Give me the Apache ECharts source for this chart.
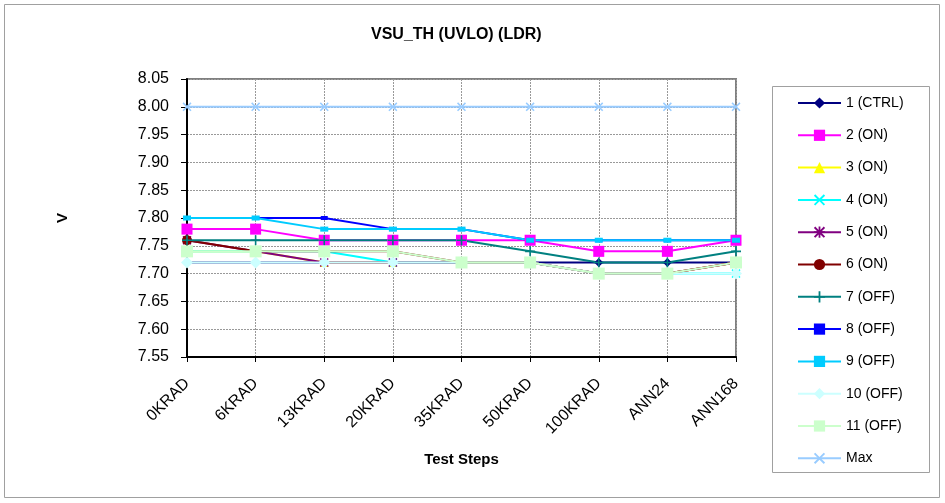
<!DOCTYPE html>
<html>
<head>
<meta charset="utf-8">
<script src="https://cdn.jsdelivr.net/npm/echarts@6/dist/echarts.min.js"></script>
<style>
html,body{margin:0;padding:0;background:#fff;}
#chart{width:945px;height:503px;}
</style>
</head>
<body>
<div id="chart"></div>
<script>
const categories = ['0KRAD','6KRAD','13KRAD','20KRAD','35KRAD','50KRAD','100KRAD','ANN24','ANN168'];
const yTicks = [7.55, 8.05, 0.05];
const s1_ctrl = [7.72,7.72,7.72,7.72,7.72,7.72,7.72,7.72,7.72];
const s2_on   = [7.78,7.78,7.76,7.76,7.76,7.76,7.74,7.74,7.76];
const s3_on   = [7.74,7.74,7.72,7.72,7.72,7.72,7.70,7.70,7.72];
const s4_on   = [7.74,7.74,7.74,7.72,7.72,7.72,7.70,7.70,7.70];
const s5_on   = [7.76,7.74,7.72,7.72,7.72,7.72,7.70,7.70,7.72];
const s6_on   = [7.76,7.74,7.74,7.74,7.72,7.72,7.70,7.70,7.72];
const s7_off  = [7.76,7.76,7.76,7.76,7.76,7.74,7.72,7.72,7.74];
const s8_off  = [7.80,7.80,7.80,7.78,7.78,7.76,7.76,7.76,7.76];
const s9_off  = [7.80,7.80,7.78,7.78,7.78,7.76,7.76,7.76,7.76];
const s10_off = [7.72,7.72,7.72,7.72,7.72,7.72,7.70,7.70,7.70];
const s11_off = [7.74,7.74,7.74,7.74,7.72,7.72,7.70,7.70,7.72];
const maxLimit = [8.00,8.00,8.00,8.00,8.00,8.00,8.00,8.00,8.00];
const seriesNames = ['1 (CTRL)','2 (ON)','3 (ON)','4 (ON)','5 (ON)','6 (ON)','7 (OFF)','8 (OFF)','9 (OFF)','10 (OFF)','11 (OFF)','Max'];

const X_PATH = 'path://M0,1.2 L1.2,0 L5,3.8 L8.8,0 L10,1.2 L6.2,5 L10,8.8 L8.8,10 L5,6.2 L1.2,10 L0,8.8 L3.8,5 Z';
const PLUS_PATH = 'path://M4.2,0 H5.8 V4.2 H10 V5.8 H5.8 V10 H4.2 V5.8 H0 V4.2 H4.2 Z';
const STAR_PATH = 'path://M0,1.2 L1.2,0 L4.2,3 V0 H5.8 V3 L8.8,0 L10,1.2 L7,4.2 H10 V5.8 H7 L10,8.8 L8.8,10 L5.8,7 V10 H4.2 V7 L1.2,10 L0,8.8 L3,5.8 H0 V4.2 H3 Z';
const DASH_PATH = 'path://M0,0 H10 V6 H0 Z';

const styles = [
  {data:s1_ctrl, color:'#000080', symbol:'diamond', size:9},
  {data:s2_on, color:'#ff00ff', symbol:'rect', size:11},
  {data:s3_on, color:'#ffff00', symbol:'triangle', size:9},
  {data:s4_on, color:'#00ffff', symbol:X_PATH, size:9},
  {data:s5_on, color:'#800080', symbol:STAR_PATH, size:9},
  {data:s6_on, color:'#800000', symbol:'circle', size:10},
  {data:s7_off, color:'#008080', symbol:PLUS_PATH, size:10},
  {data:s8_off, color:'#0000ff', symbol:DASH_PATH, size:[7,4]},
  {data:s9_off, color:'#00ccff', symbol:DASH_PATH, size:[8,5]},
  {data:s10_off, color:'#ccffff', symbol:'diamond', size:12},
  {data:s11_off, color:'#ccffcc', symbol:'rect', size:12},
  {data:maxLimit, color:'#99ccff', symbol:X_PATH, size:9}
];

const chart = echarts.init(document.getElementById('chart'), null, {renderer:'canvas'});
const font = 'Liberation Sans, Arial, sans-serif';
chart.setOption({
  animation:false,
  backgroundColor:'#fff',
  textStyle:{fontFamily:font},
  title:{text:'VSU_TH (UVLO) (LDR)', left:366, top:22, textStyle:{fontSize:16, fontWeight:'bold', color:'#000', fontFamily:font}},
  graphic:[
    {type:'rect', shape:{x:4.5,y:4.5,width:935,height:493}, style:{fill:null, stroke:'#a0a0a0', lineWidth:1}, silent:true, z:-10},
    {type:'rect', shape:{x:772.5,y:86.5,width:157,height:386}, style:{fill:'#fff', stroke:'#a0a0a0', lineWidth:1}, silent:true, z:-5}
  ],
  grid:{left:187, right:209, top:79, bottom:146, show:true, borderColor:'#808080', borderWidth:2, containLabel:false},
  legend:{
    orient:'vertical', left:792, top:91, itemWidth:43, itemHeight:14, itemGap:18.3,
    textStyle:{fontSize:14, color:'#000', fontFamily:font},
    data:seriesNames.map((n,i)=>({name:n, itemStyle:{}})),
  },
  xAxis:{
    type:'category', data:categories, boundaryGap:false,
    name:'Test Steps', nameLocation:'middle', nameGap:95,
    nameTextStyle:{fontSize:15, fontWeight:'bold', color:'#000'},
    axisLine:{lineStyle:{color:'#000', width:2}},
    axisTick:{show:true, alignWithLabel:true, length:5, lineStyle:{color:'#000'}},
    axisLabel:{rotate:45, fontSize:16, color:'#000', margin:24, interval:0},
    splitLine:{show:true, lineStyle:{color:'#999', type:[2,1], width:1}}
  },
  yAxis:{
    type:'value', min:yTicks[0], max:yTicks[1], interval:yTicks[2],
    name:'V', nameLocation:'middle', nameGap:117,
    nameTextStyle:{fontSize:15, fontWeight:'bold', color:'#000'},
    axisLine:{show:true, lineStyle:{color:'#000', width:2}},
    axisTick:{show:true, length:6, lineStyle:{color:'#000'}},
    axisLabel:{fontSize:16, color:'#000', margin:18, formatter:v=>v.toFixed(2)},
    splitLine:{show:true, lineStyle:{color:'#999', type:[2,1], width:1}}
  },
  series: styles.map((s,i)=>({
    name:seriesNames[i], type:'line', data:s.data,
    symbol:s.symbol, symbolSize:s.size, showAllSymbol:true,
    lineStyle:{color:s.color, width:2},
    itemStyle:{color:s.color, borderWidth:0},
    emphasis:{disabled:true}
  }))
});
</script>
</body>
</html>
